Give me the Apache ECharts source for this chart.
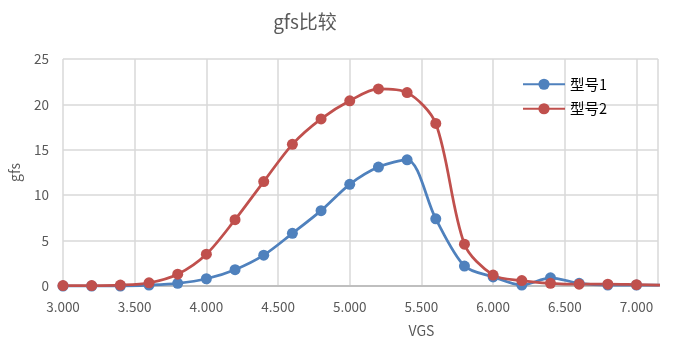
<!DOCTYPE html>
<html>
<head>
<meta charset="utf-8">
<script src="https://cdn.jsdelivr.net/npm/echarts@6/dist/echarts.min.js"></script>
<style>
  html, body { margin: 0; padding: 0; background: #fff; }
  #chart { width: 697px; height: 353px; }
</style>
</head>
<body>
<div id="chart"></div>
<script>
const vgs = [3.0, 3.2, 3.4, 3.6, 3.8, 4.0, 4.2, 4.4, 4.6, 4.8, 5.0, 5.2, 5.4, 5.6, 5.8, 6.0, 6.2, 6.4, 6.6, 6.8, 7.0, 7.2];
const model1 = [0, 0, 0, 0.1, 0.3, 0.8, 1.8, 3.4, 5.8, 8.3, 11.2, 13.1, 13.9, 7.4, 2.2, 1.0, 0.1, 0.9, 0.3, 0.1, 0.1, 0.1];
const model2 = [0.05, 0.05, 0.1, 0.35, 1.3, 3.5, 7.3, 11.5, 15.6, 18.4, 20.4, 21.7, 21.3, 17.9, 4.6, 1.2, 0.6, 0.3, 0.2, 0.2, 0.15, 0.1];
const seriesNames = ['型号1', '型号2'];

const pair = (ys) => vgs.map((x, i) => [x, ys[i]]);
const labelColor = '#595959';
const font = '"Noto Sans CJK SC", "DejaVu Sans", sans-serif';

const chart = echarts.init(document.getElementById('chart'), null, { renderer: 'canvas' });
chart.setOption({
  animation: false,
  backgroundColor: '#fff',
  textStyle: { fontFamily: font },
  title: {
    text: 'gfs比较',
    left: 300,
    textAlign: 'center',
    top: 7,
    textStyle: { color: labelColor, fontSize: 19, fontWeight: 'normal', fontFamily: font }
  },
  legend: {
    orient: 'vertical',
    left: 517,
    top: 72,
    itemWidth: 42,
    itemHeight: 14,
    itemGap: 10,
    textStyle: { color: '#000', fontSize: 14.5, fontFamily: font },
    data: seriesNames
  },
  grid: { left: 63, right: 39, top: 59, bottom: 67 },
  xAxis: {
    type: 'value',
    min: 3,
    max: 7.15,
    interval: 0.5,
    name: 'VGS',
    nameLocation: 'middle',
    nameGap: 38,
    nameTextStyle: { color: labelColor, fontSize: 14, padding: [0, 0, 0, 122] },
    axisLine: { lineStyle: { color: '#bfbfbf', width: 2 } },
    axisTick: { show: false },
    axisLabel: {
      color: labelColor,
      fontSize: 13.5,
      margin: 14,
      showMaxLabel: false,
      formatter: (v) => v.toFixed(3)
    },
    splitLine: { show: true, lineStyle: { color: '#d9d9d9', width: 1.5 } }
  },
  yAxis: {
    type: 'value',
    min: 0,
    max: 25,
    interval: 5,
    name: 'gfs',
    nameLocation: 'middle',
    nameGap: 41,
    nameTextStyle: { color: labelColor, fontSize: 14 },
    axisLine: { show: false },
    axisTick: { show: false },
    axisLabel: { color: labelColor, fontSize: 13.5, margin: 14 },
    splitLine: { lineStyle: { color: '#d9d9d9', width: 1.5 } }
  },
  series: [
    {
      name: seriesNames[0],
      type: 'line',
      data: pair(model1),
      smooth: 0.3,
      symbol: 'circle',
      symbolSize: 11,
      clip: true,
      lineStyle: { color: '#4f81bd', width: 2.75 },
      itemStyle: { color: '#4f81bd' }
    },
    {
      name: seriesNames[1],
      type: 'line',
      data: pair(model2),
      smooth: 0.3,
      symbol: 'circle',
      symbolSize: 11,
      clip: true,
      lineStyle: { color: '#c0504d', width: 2.75 },
      itemStyle: { color: '#c0504d' }
    }
  ]
});
</script>
</body>
</html>
